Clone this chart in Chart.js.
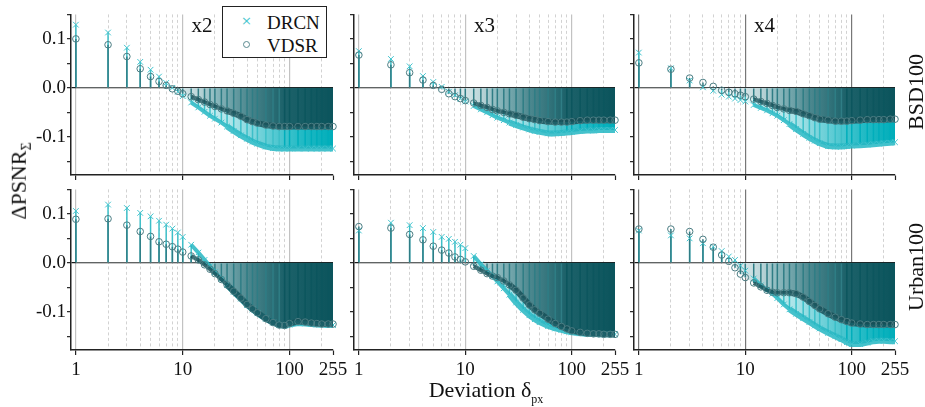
<!DOCTYPE html>
<html>
<head>
<meta charset="utf-8">
<script src="https://cdn.jsdelivr.net/npm/chart.js@4.4.1/dist/chart.umd.min.js"></script>
<style>
  body { margin: 0; background: #fff; }
  #wrap { position: relative; width: 925px; height: 407px; overflow: hidden;
          font-family: 'Liberation Serif', 'DejaVu Serif', serif; color: #111; }
  .panel { position: absolute; }
  .txt { position: absolute; white-space: nowrap; line-height: 1; }
  .rot { transform: translate(-50%, -50%) rotate(-90deg); }
  .ctr { transform: translate(-50%, -50%); }
  #legend { position: absolute; left: 222px; top: 6px; width: 103px; height: 50px;
            border: 1.3px solid #222; background: #fff; }
  #legend .it { position: absolute; left: 44px; font-size: 19px; line-height: 1; }
</style>
</head>
<body>
<div id="wrap">
  <div id="legend">
    <div class="txt" style="left:18px;top:7px;font-size:13px;color:#4cc8d1;font-family:'DejaVu Sans',sans-serif">&#215;</div>
    <div class="it" style="top:6px">DRCN</div>
    <div style="position:absolute;left:20px;top:34px;width:5px;height:5px;border:1px solid #5a8a90;border-radius:50%"></div>
    <div class="it" style="top:29px">VDSR</div>
  </div>
</div>

<script>
// deviations (px) at which the two curves were read
const devs = [1,2,3,4,5,6,7,8,9,10,12,14,16,18,20,23,26,30,35,40,45,50,60,70,80,90,100,120,140,160,180,200,230,255];

// BSD100
const drcnBsdX2 = [0.129,0.113,0.082,0.053,0.037,0.023,0.010,0.000,-0.008,-0.017,-0.030,-0.040,-0.049,-0.057,-0.063,-0.071,-0.079,-0.088,-0.097,-0.104,-0.110,-0.114,-0.120,-0.123,-0.124,-0.124,-0.124,-0.124,-0.124,-0.124,-0.124,-0.124,-0.124,-0.124];
const vdsrBsdX2 = [0.100,0.088,0.064,0.039,0.023,0.013,0.005,-0.002,-0.007,-0.012,-0.018,-0.024,-0.029,-0.034,-0.038,-0.043,-0.047,-0.052,-0.058,-0.065,-0.069,-0.072,-0.076,-0.078,-0.079,-0.079,-0.079,-0.079,-0.079,-0.079,-0.079,-0.079,-0.079,-0.079];
const drcnBsdX3 = [0.075,0.059,0.044,0.024,0.012,0.002,-0.008,-0.015,-0.022,-0.028,-0.037,-0.044,-0.050,-0.056,-0.061,-0.066,-0.071,-0.076,-0.081,-0.085,-0.088,-0.090,-0.093,-0.093,-0.092,-0.091,-0.090,-0.088,-0.087,-0.087,-0.086,-0.086,-0.086,-0.086];
const vdsrBsdX3 = [0.067,0.047,0.031,0.016,0.005,-0.003,-0.012,-0.018,-0.022,-0.026,-0.031,-0.036,-0.040,-0.044,-0.047,-0.050,-0.053,-0.056,-0.060,-0.063,-0.065,-0.067,-0.069,-0.070,-0.070,-0.070,-0.069,-0.067,-0.066,-0.066,-0.066,-0.066,-0.066,-0.066];
const drcnBsdX4 = [0.072,0.040,0.015,0.001,-0.006,-0.014,-0.018,-0.022,-0.025,-0.028,-0.035,-0.041,-0.046,-0.052,-0.057,-0.066,-0.074,-0.084,-0.094,-0.102,-0.108,-0.113,-0.119,-0.120,-0.120,-0.119,-0.118,-0.117,-0.116,-0.115,-0.114,-0.113,-0.112,-0.111];
const vdsrBsdX4 = [0.051,0.038,0.020,0.011,0.003,-0.005,-0.009,-0.012,-0.015,-0.018,-0.023,-0.028,-0.032,-0.036,-0.040,-0.043,-0.046,-0.048,-0.053,-0.057,-0.061,-0.064,-0.066,-0.068,-0.068,-0.068,-0.067,-0.066,-0.065,-0.065,-0.065,-0.065,-0.064,-0.064];

// Urban100
const drcnUrbX2 = [0.106,0.119,0.112,0.102,0.095,0.086,0.078,0.070,0.062,0.053,0.037,0.021,0.006,-0.007,-0.019,-0.033,-0.045,-0.059,-0.073,-0.086,-0.095,-0.103,-0.114,-0.122,-0.127,-0.128,-0.126,-0.123,-0.124,-0.125,-0.126,-0.126,-0.127,-0.127];
const vdsrUrbX2 = [0.089,0.090,0.077,0.064,0.054,0.043,0.038,0.033,0.028,0.022,0.014,0.006,-0.004,-0.013,-0.022,-0.034,-0.045,-0.058,-0.072,-0.085,-0.094,-0.102,-0.114,-0.122,-0.127,-0.128,-0.124,-0.120,-0.121,-0.123,-0.124,-0.125,-0.125,-0.125];
const drcnUrbX3 = [0.066,0.082,0.077,0.071,0.063,0.053,0.049,0.043,0.037,0.030,0.014,-0.003,-0.016,-0.027,-0.038,-0.052,-0.065,-0.081,-0.096,-0.107,-0.115,-0.121,-0.129,-0.134,-0.137,-0.140,-0.142,-0.144,-0.145,-0.145,-0.146,-0.146,-0.146,-0.146];
const vdsrUrbX3 = [0.074,0.071,0.058,0.047,0.034,0.026,0.020,0.012,0.007,0.002,-0.007,-0.015,-0.022,-0.027,-0.030,-0.037,-0.045,-0.056,-0.072,-0.086,-0.096,-0.103,-0.115,-0.124,-0.130,-0.135,-0.139,-0.142,-0.144,-0.145,-0.145,-0.146,-0.146,-0.146];
const drcnUrbX4 = [0.066,0.056,0.050,0.040,0.033,0.024,0.013,0.006,-0.006,-0.016,-0.032,-0.046,-0.055,-0.063,-0.072,-0.085,-0.095,-0.104,-0.113,-0.121,-0.128,-0.134,-0.143,-0.150,-0.156,-0.162,-0.166,-0.166,-0.163,-0.160,-0.159,-0.159,-0.160,-0.160];
const vdsrUrbX4 = [0.069,0.069,0.064,0.048,0.032,0.016,0.003,-0.010,-0.023,-0.030,-0.041,-0.049,-0.056,-0.060,-0.061,-0.061,-0.061,-0.063,-0.070,-0.079,-0.087,-0.094,-0.104,-0.111,-0.116,-0.120,-0.123,-0.125,-0.126,-0.126,-0.126,-0.126,-0.126,-0.126];

// ticks
const xGridVals = [1,2,3,4,5,6,7,8,9,10,20,30,40,50,60,70,80,90,100,200,255];
const xLabelVals = [1, 10, 100, 255];
const xLabelText = ['1', '10', '100', '255'];
const yTickVals = [-0.15, -0.1, -0.05, 0, 0.05, 0.1, 0.15];
const yLabelVals = [0.1, 0, -0.1];
const yLabelText = ['0.1', '0.0', '-0.1'];

const scaleNames = ['x2', 'x3', 'x4'];
const setNames = ['BSD100', 'Urban100'];

const panels = [
  {row: 0, col: 0, drcn: drcnBsdX2, vdsr: vdsrBsdX2},
  {row: 0, col: 1, drcn: drcnBsdX3, vdsr: vdsrBsdX3},
  {row: 0, col: 2, drcn: drcnBsdX4, vdsr: vdsrBsdX4},
  {row: 1, col: 0, drcn: drcnUrbX2, vdsr: vdsrUrbX2},
  {row: 1, col: 1, drcn: drcnUrbX3, vdsr: vdsrUrbX3},
  {row: 1, col: 2, drcn: drcnUrbX4, vdsr: vdsrUrbX4}
];

// plot area of every panel, in page pixels
const colL = [71, 354, 634], colR = [333, 615, 895];
const rowT = [10, 185], rowB = [175, 350];
const PADL = 50, PADR = 24, PADT = 8, PADB = 36;

const FONT = "'Liberation Serif', 'DejaVu Serif', serif";

// gradient stops along deviation for the dense stem area
const drcnStops = [[8,'#e8f7f8'],[15,'#cdeff2'],[30,'#a9e3e8'],[60,'#66ced6'],[130,'#22bac5'],[255,'#00adb9']];
const vdsrStops = [[8,'#e4eef0'],[14,'#bcd6d9'],[20,'#8dbabf'],[42,'#4a868d'],[87,'#1d626a'],[255,'#0b545c']];

function pts(vals) {
  return devs.map((d, i) => ({x: d, y: vals[i]}));
}

function gradient(stops) {
  return function(c) {
    const chart = c.chart;
    if (!chart.chartArea) return stops[stops.length - 1][1];
    const xs = chart.scales.x;
    const x0 = xs.getPixelForValue(1), x1 = xs.getPixelForValue(255);
    const g = chart.ctx.createLinearGradient(x0, 0, x1, 0);
    stops.forEach(s => g.addColorStop(Math.log10(s[0]) / Math.log10(255), s[1]));
    return g;
  };
}

function fillSet(vals, stops, ord) {
  return {type: 'line', data: pts(vals), order: ord, tension: 0,
    borderWidth: 0, borderColor: 'rgba(0,0,0,0)', pointRadius: 0,
    backgroundColor: gradient(stops),
    fill: {target: 'origin', above: 'rgba(0,0,0,0)'}};
}

function stemSet(vals, lowCol, highCol, ord) {
  return {type: 'bar', data: pts(vals), order: ord, grouped: false,
    maxBarThickness: 1.5, borderWidth: 0,
    backgroundColor: c => (c.raw && c.raw.x > 80) ? highCol : lowCol};
}

// markers, with a thick band where the markers pile up
function markSet(vals, style, radius, col, band, ord) {
  return {type: 'line', data: pts(vals), order: ord, tension: 0, clip: 8,
    borderColor: 'rgba(0,0,0,0)', borderWidth: 5.5, borderJoinStyle: 'round',
    segment: {
      borderColor: c => c.p0.parsed.x >= 11 ? band : 'rgba(0,0,0,0)',
      borderWidth: c => c.p0.parsed.x >= 25 ? 6 : 4
    },
    pointStyle: style, pointRadius: radius, pointBorderWidth: 1,
    pointBorderColor: col, pointBackgroundColor: 'rgba(0,0,0,0)'};
}

const wrap = document.getElementById('wrap');

panels.forEach(p => {
  const L = colL[p.col], R = colR[p.col], T = rowT[p.row], B = rowB[p.row];
  const box = document.createElement('div');
  box.className = 'panel';
  box.style.left = (L - PADL) + 'px';
  box.style.top = (T - PADT) + 'px';
  const cv = document.createElement('canvas');
  cv.width = R - L + PADL + PADR;
  cv.height = B - T + PADT + PADB;
  box.appendChild(cv);
  wrap.insertBefore(box, wrap.firstChild);

  const majorCol = p.col === 2 ? '#777777' : '#c2c2c2';

  new Chart(cv, {
    type: 'bar',
    data: {
      datasets: [
        fillSet(p.drcn, drcnStops, 6),
        stemSet(p.drcn, '#3cbfc8', '#00aebb', 5),
        fillSet(p.vdsr, vdsrStops, 4),
        stemSet(p.vdsr, '#2f7d85', '#0c565e', 3),
        markSet(p.drcn, 'crossRot', 4, '#3fc4ce', 'rgba(38,182,194,0.85)', 2),
        markSet(p.vdsr, 'circle', 3.3, '#4b7d83', 'rgba(24,80,88,0.85)', 1)
      ]
    },
    options: {
      responsive: false,
      animation: false,
      events: [],
      layout: {padding: {left: 0, right: PADR, top: PADT, bottom: 0}},
      plugins: {legend: {display: false}, tooltip: {enabled: false}},
      scales: {
        x: {
          type: 'logarithmic', min: 0.9, max: 255, offset: false,
          afterBuildTicks: s => { s.ticks = xGridVals.map(v => ({value: v})); },
          afterFit: s => { s.height = PADB; },
          grid: {
            offset: false,
            color: c => {
              const v = c.tick ? c.tick.value : 0;
              if (v === 255) return 'rgba(0,0,0,0)';
              return (v === 1 || v === 10 || v === 100) ? majorCol : '#cdcdcd';
            },
            lineWidth: c => {
              const v = c.tick ? c.tick.value : 0;
              return (v === 1 || v === 10 || v === 100) ? 1.2 : 0.9;
            },
            tickColor: c => (c.tick && xLabelVals.includes(c.tick.value)) ? '#222' : 'rgba(0,0,0,0)',
            tickLength: 5, tickWidth: 1.2
          },
          border: {
            color: '#222', width: 1.5,
            dash: c => {
              const v = c.tick ? c.tick.value : 1;
              return (v === 1 || v === 10 || v === 100) ? [] : [3, 2.5];
            }
          },
          ticks: {
            autoSkip: false, maxRotation: 0, padding: 4, color: '#111',
            font: {family: FONT, size: 19},
            callback: v => {
              const k = xLabelVals.indexOf(v);
              return (p.row === 1 && k >= 0) ? xLabelText[k] : '';
            }
          }
        },
        y: {
          min: -0.178, max: 0.15,
          afterBuildTicks: s => { s.ticks = yTickVals.map(v => ({value: v})); },
          afterFit: s => { s.width = PADL; },
          grid: {
            color: c => (c.tick && Math.abs(c.tick.value) < 1e-9) ? '#1a1a1a' : 'rgba(0,0,0,0)',
            lineWidth: 1.3,
            tickColor: '#222', tickLength: 4, tickWidth: 1.2
          },
          border: {color: '#222', width: 1.5},
          ticks: {
            padding: 1, color: '#111',
            font: {family: FONT, size: 19},
            callback: v => {
              const k = yLabelVals.findIndex(t => Math.abs(t - v) < 1e-9);
              return (p.col === 0 && k >= 0) ? yLabelText[k] : '';
            }
          }
        }
      }
    }
  });
});

// titles, row names and axis labels
function addText(html, x, y, size, cls) {
  const d = document.createElement('div');
  d.className = 'txt ' + cls;
  d.style.left = x + 'px';
  d.style.top = y + 'px';
  d.style.fontSize = size + 'px';
  d.innerHTML = html;
  wrap.appendChild(d);
}

scaleNames.forEach((s, i) => addText(s, (colL[i] + colR[i]) / 2, 25, 21, 'ctr'));
addText(setNames[0], 916, 92, 22, 'rot');
addText(setNames[1], 916, 267, 22, 'rot');
addText('&Delta;PSNR<sub style="font-size:14px">&Sigma;</sub>', 21, 181, 22, 'rot');
addText('Deviation &delta;<sub style="font-size:12px">px</sub>', 486, 392, 22, 'ctr');
</script>
</body>
</html>
